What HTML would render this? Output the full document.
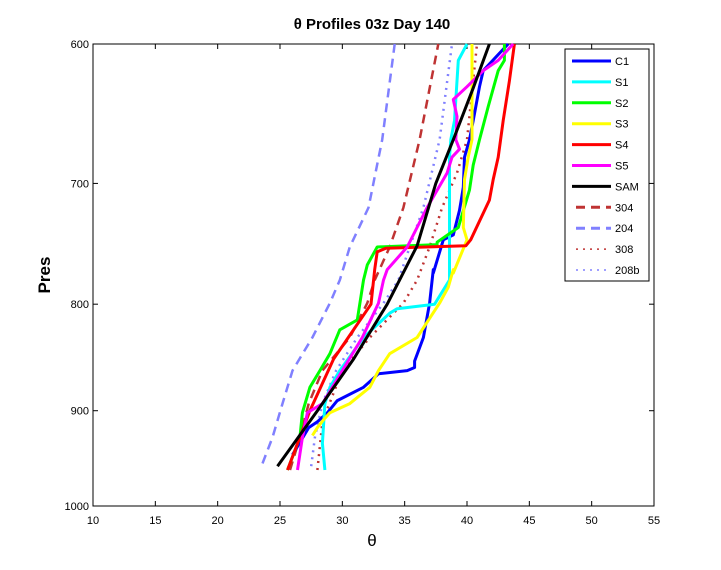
<!DOCTYPE html>
<html><head><meta charset="utf-8"><style>
body{margin:0;background:#fff;}
svg{display:block;font-family:"Liberation Sans",sans-serif;}
</style></head><body>
<svg id="chart" width="721" height="570" xmlns="http://www.w3.org/2000/svg">
<rect x="0" y="0" width="721" height="570" fill="#fff"/>
<text x="372" y="29" text-anchor="middle" font-size="15" font-weight="bold">θ Profiles 03z Day 140</text>
<rect x="93" y="44" width="561" height="462" fill="#fff" stroke="#000" stroke-width="1"/>
<g id="ticks"></g>
<g id="series"></g>
<text x="372" y="546" text-anchor="middle" font-size="17">θ</text>
<text x="50" y="275" text-anchor="middle" font-size="17" font-weight="bold" transform="rotate(-90 50 275)">Pres</text>
<g id="legend"></g>
</svg>
<script>
const xTicks=[10,15,20,25,30,35,40,45,50,55];
const yTicks=[600,700,800,900,1000];
const seriesNames=["C1","S1","S2","S3","S4","S5","SAM","304","204","308","208b"];
const seriesColors=["#0000ff","#00ffff","#00ff00","#ffff00","#ff0000","#ff00ff","#000000","#bf3333","#8080ff","#bf3333","#8080ff"];
const seriesDash=["","","","","","","","9,6","9,6","2,5","2,5"];
const presC1=[945,917,911,902,890,877,864,861,858,852,830,799,770,773,745,741,721,715,703,680,667,653,629,618,600];
const thetaC1=[26.0,27.3,28.0,28.8,29.6,31.7,32.9,35.2,35.8,35.8,36.5,37.0,37.3,37.3,38.1,38.9,39.4,39.5,39.7,39.8,40.2,40.5,41.0,41.3,43.3];
const presS1=[961,933,893,877,861,830,808,804,800,779,770,680,667,653,611,600];
const thetaS1=[28.6,28.4,28.6,29.0,29.8,31.7,33.8,34.4,37.4,38.6,38.6,38.6,38.7,39.0,39.3,40.0];
const presS2=[961,927,902,877,861,845,823,814,779,766,751,749,747,735,705,686,667,643,618,611,600];
const thetaS2=[25.6,26.6,26.8,27.4,28.2,29.0,29.8,31.2,31.7,32.0,32.8,37.6,37.6,39.3,40.2,40.5,41.0,41.7,42.5,43.0,43.0];
const presS3=[925,917,909,902,893,877,861,845,830,799,785,770,773,745,735,697,680,667,600];
const thetaS3=[27.6,28.0,28.5,29.0,30.6,32.2,32.9,33.8,36.0,37.8,38.5,38.9,38.9,40.0,39.7,39.8,40.1,40.4,40.4];
const presS4=[961,930,900,850,800,770,755,752,750,745,713,697,680,653,625,600];
const thetaS4=[25.6,26.5,27.4,29.3,32.3,32.6,32.8,33.5,39.9,40.3,41.8,42.1,42.5,42.9,43.4,43.8];
const presS5=[961,927,902,893,861,830,799,779,770,751,719,692,680,674,667,650,638,629,618,611,600];
const thetaS5=[26.4,26.8,27.2,28.4,30.0,31.6,32.9,33.3,33.6,35.2,36.8,38.4,38.8,39.4,39.1,39.2,38.9,40.0,41.3,42.5,43.7];
const presSAM=[957,900,850,800,750,700,667,630,600];
const thetaSAM=[24.8,28.0,30.9,33.6,36.0,37.5,38.9,40.5,41.8];
const pres304=[961,927,893,861,830,799,779,751,719,667,600];
const theta304=[25.8,26.6,27.3,28.4,30.6,32.0,32.6,33.8,34.9,36.2,37.7];
const pres204=[954,927,893,861,830,799,779,751,719,667,600];
const theta204=[23.6,24.4,25.2,26.0,27.6,29.0,29.8,30.6,32.1,33.2,34.2];
const pres308=[961,911,861,830,799,779,751,719,692,667,600];
const theta308=[28.0,28.4,30.0,32.2,34.9,36.0,37.0,38.0,39.2,40.0,40.8];
const pres208b=[957,927,893,861,830,799,779,751,719,667,600];
const theta208b=[27.5,27.8,28.4,29.5,31.2,33.3,34.5,35.4,36.5,37.8,38.8];
const allPres=[presC1,presS1,presS2,presS3,presS4,presS5,presSAM,pres304,pres204,pres308,pres208b];
const allTheta=[thetaC1,thetaS1,thetaS2,thetaS3,thetaS4,thetaS5,thetaSAM,theta304,theta204,theta308,theta208b];

const X0=93,X1=654,Y0=44,Y1=506;
function xs(t){return X0+(t-10)/(55-10)*(X1-X0);}
function ys(p){return Y0+Math.log(p/600)/Math.log(1000/600)*(Y1-Y0);}
const NS="http://www.w3.org/2000/svg";
function mk(tag,attrs,parent){const e=document.createElementNS(NS,tag);for(const k in attrs)e.setAttribute(k,attrs[k]);parent.appendChild(e);return e;}
const tg=document.getElementById('ticks');
xTicks.forEach(t=>{
  const x=xs(t);
  const a=mk('line',{x1:x,x2:x,y1:Y1,y2:Y1-5,stroke:'#000'},tg);
  
  
  const b=mk('line',{x1:x,x2:x,y1:Y0,y2:Y0+5,stroke:'#000'},tg);
  
  
  const l=mk('text',{x:x,y:Y1+18,'text-anchor':'middle','font-size':'11'},tg);
  l.textContent=t;
  
  
});
yTicks.forEach(p=>{
  const y=ys(p);
  const a=mk('line',{x1:X0,x2:X0+5,y1:y,y2:y,stroke:'#000'},tg);
  
  
  const b=mk('line',{x1:X1,x2:X1-5,y1:y,y2:y,stroke:'#000'},tg);
  
  
  const l=mk('text',{x:X0-4,y:y+4,'text-anchor':'end','font-size':'11'},tg);
  l.textContent=p;
  
  
});
const sg=document.getElementById('series');
[8,7,10,9,0,1,2,3,4,5,6].forEach(i=>{
  const pts=allPres[i].map((p,j)=>xs(allTheta[i][j]).toFixed(1)+','+ys(p).toFixed(1)).join(' ');
  const attrs={points:pts,fill:'none',stroke:seriesColors[i],'stroke-width':i>=7?2.5:3,'stroke-linejoin':'round'};
  if(seriesDash[i])attrs['stroke-dasharray']=seriesDash[i];
  const pl=mk('polyline',attrs,sg);
  
  
});
const lg=document.getElementById('legend');
const box=mk('rect',{x:565,y:49,width:84,height:232,fill:'#fff',stroke:'#000'},lg);


seriesNames.forEach((n,i)=>{
  const y=61+i*20.9;
  const attrs={x1:i>=7?576:572,x2:611,y1:y,y2:y,stroke:seriesColors[i],'stroke-width':i>=9?1.5:3};
  if(seriesDash[i])attrs['stroke-dasharray']=seriesDash[i];
  const ln=mk('line',attrs,lg);
  
  
  const t=mk('text',{x:615,y:y+4,'font-size':'11'},lg);
  t.textContent=n;
  
  
});
</script>
</body></html>
